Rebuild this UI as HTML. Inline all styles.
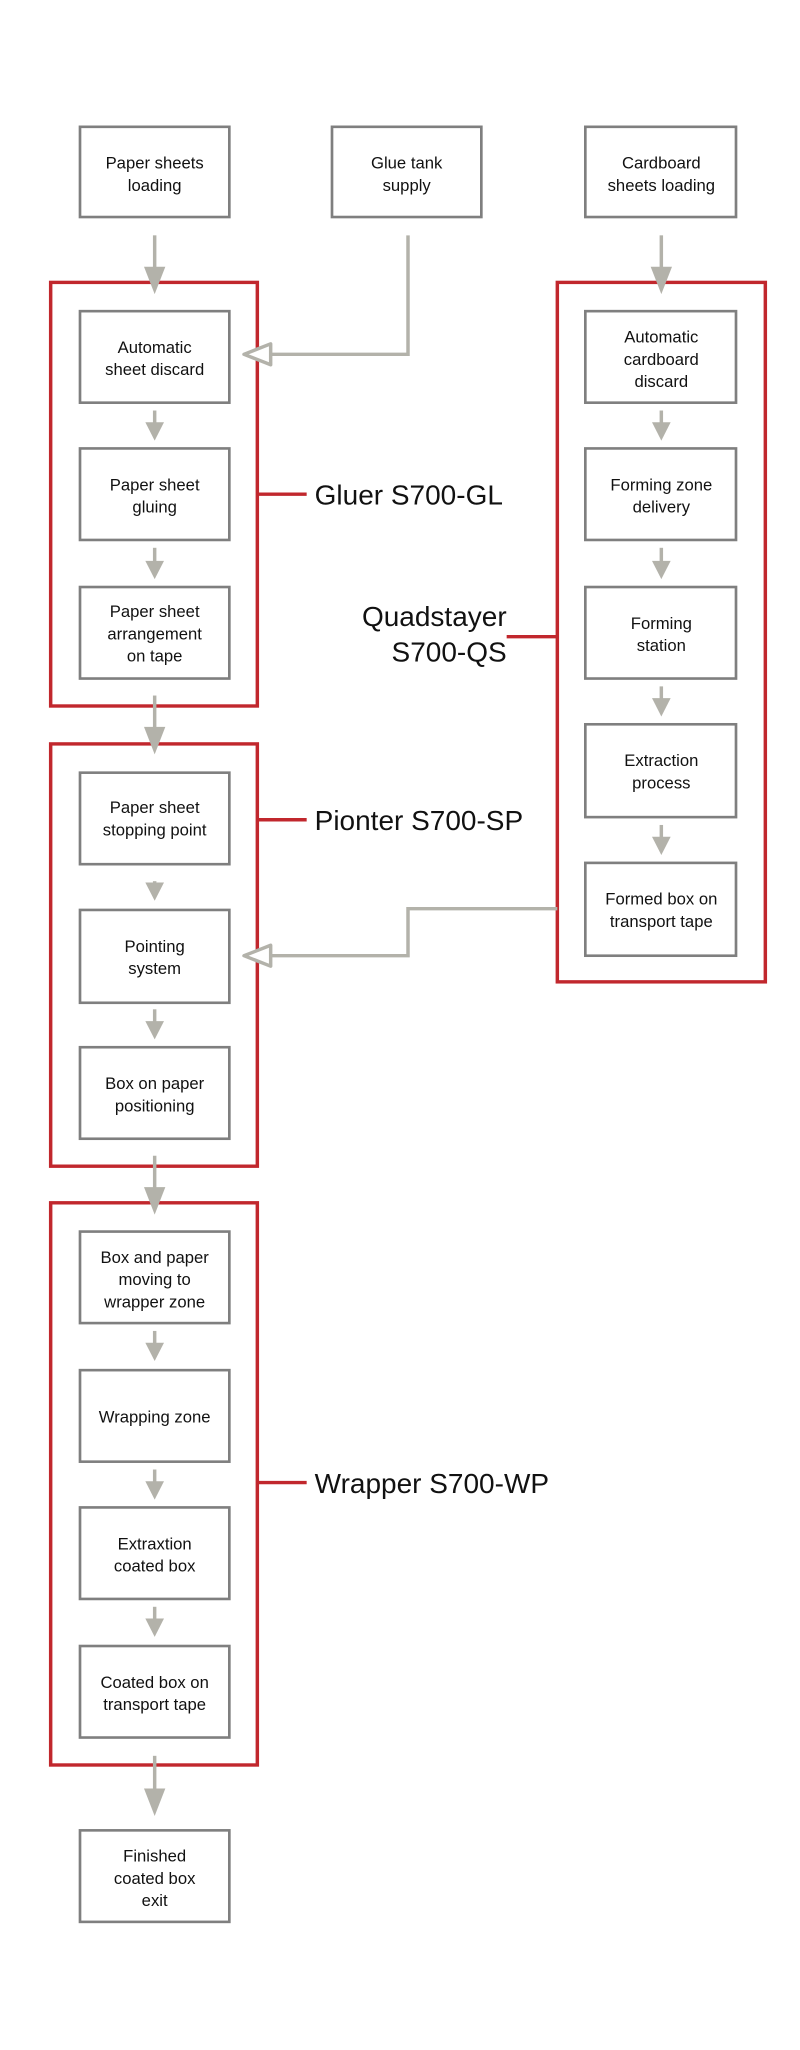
<!DOCTYPE html>
<html><head><meta charset="utf-8"><style>
html,body{margin:0;padding:0;background:#fff;width:800px;height:2050px;overflow:hidden}
svg{display:block}
text{font-family:"Liberation Sans",sans-serif;fill:#111}
.b{fill:#fff;stroke:#7f7f7f;stroke-width:2}
.r{fill:none;stroke:#c1272d;stroke-width:2.6}
.c{fill:none;stroke:#b3b2aa;stroke-width:2.6}
.h{fill:#b3b2aa}
.o{fill:#fff;stroke:#b3b2aa;stroke-width:2.6;stroke-linejoin:round}
.t{font-size:12.5px;text-anchor:middle}
.l{font-size:21px}
</style></head><body>
<svg width="800" height="2050" viewBox="0 0 600 1568" preserveAspectRatio="none">
<!-- red group boxes -->
<rect class="r" x="38" y="216" width="155" height="324"/>
<rect class="r" x="418" y="216" width="156" height="535"/>
<rect class="r" x="38" y="569" width="155" height="323"/>
<rect class="r" x="38" y="920" width="155" height="430"/>
<!-- label lines -->
<line class="r" x1="193" y1="378" x2="230" y2="378"/>
<line class="r" x1="380" y1="487" x2="418" y2="487"/>
<line class="r" x1="193" y1="627" x2="230" y2="627"/>
<line class="r" x1="193" y1="1134" x2="230" y2="1134"/>
<text class="l" x="236" y="386">Gluer S700-GL</text>
<text class="l" x="380" y="479" text-anchor="end">Quadstayer</text>
<text class="l" x="380" y="506" text-anchor="end">S700-QS</text>
<text class="l" x="236" y="635">Pionter S700-SP</text>
<text class="l" x="236" y="1142">Wrapper S700-WP</text>

<!-- connectors -->
<g>
<line class="c" x1="116" y1="180" x2="116" y2="208"/><polygon class="h" points="108,204 124,204 116,225"/>
<line class="c" x1="496" y1="180" x2="496" y2="208"/><polygon class="h" points="488,204 504,204 496,225"/>
<line class="c" x1="116" y1="532" x2="116" y2="560"/><polygon class="h" points="108,556 124,556 116,577"/>
<line class="c" x1="116" y1="884" x2="116" y2="912"/><polygon class="h" points="108,908 124,908 116,929"/>
<line class="c" x1="116" y1="1343" x2="116" y2="1372"/><polygon class="h" points="108,1368 124,1368 116,1389"/>
<polyline class="c" points="306,180 306,271 204,271"/><polygon class="o" points="183,271 203,263 203,279"/>
<polyline class="c" points="418,695 306,695 306,731 204,731"/><polygon class="o" points="183,731 203,723 203,739"/>
</g>
<g id="small">
<line class="c" x1="116" y1="314" x2="116" y2="326"/><polygon class="h" points="109,323 123,323 116,337"/>
<line class="c" x1="116" y1="419" x2="116" y2="432"/><polygon class="h" points="109,429 123,429 116,443"/>
<line class="c" x1="496" y1="314" x2="496" y2="326"/><polygon class="h" points="489,323 503,323 496,337"/>
<line class="c" x1="496" y1="419" x2="496" y2="432"/><polygon class="h" points="489,429 503,429 496,443"/>
<line class="c" x1="496" y1="525" x2="496" y2="537"/><polygon class="h" points="489,534 503,534 496,548"/>
<line class="c" x1="496" y1="631" x2="496" y2="643"/><polygon class="h" points="489,640 503,640 496,654"/>
<line class="c" x1="116" y1="674" x2="116" y2="678"/><polygon class="h" points="109,675 123,675 116,689"/>
<line class="c" x1="116" y1="772" x2="116" y2="784"/><polygon class="h" points="109,781 123,781 116,795"/>
<line class="c" x1="116" y1="1018" x2="116" y2="1030"/><polygon class="h" points="109,1027 123,1027 116,1041"/>
<line class="c" x1="116" y1="1124" x2="116" y2="1136"/><polygon class="h" points="109,1133 123,1133 116,1147"/>
<line class="c" x1="116" y1="1229" x2="116" y2="1241"/><polygon class="h" points="109,1238 123,1238 116,1252"/>
</g>

<!-- boxes -->
<rect class="b" x="60" y="97" width="112" height="69"/>
<text class="t" x="116" y="129">Paper sheets</text><text class="t" x="116" y="146">loading</text>
<rect class="b" x="249" y="97" width="112" height="69"/>
<text class="t" x="305" y="129">Glue tank</text><text class="t" x="305" y="146">supply</text>
<rect class="b" x="439" y="97" width="113" height="69"/>
<text class="t" x="496" y="129">Cardboard</text><text class="t" x="496" y="146">sheets loading</text>

<rect class="b" x="60" y="238" width="112" height="70"/>
<text class="t" x="116" y="270">Automatic</text><text class="t" x="116" y="287">sheet discard</text>
<rect class="b" x="60" y="343" width="112" height="70"/>
<text class="t" x="116" y="375">Paper sheet</text><text class="t" x="116" y="392">gluing</text>
<rect class="b" x="60" y="449" width="112" height="70"/>
<text class="t" x="116" y="472">Paper sheet</text><text class="t" x="116" y="489">arrangement</text><text class="t" x="116" y="506">on tape</text>

<rect class="b" x="439" y="238" width="113" height="70"/>
<text class="t" x="496" y="262">Automatic</text><text class="t" x="496" y="279">cardboard</text><text class="t" x="496" y="296">discard</text>
<rect class="b" x="439" y="343" width="113" height="70"/>
<text class="t" x="496" y="375">Forming zone</text><text class="t" x="496" y="392">delivery</text>
<rect class="b" x="439" y="449" width="113" height="70"/>
<text class="t" x="496" y="481">Forming</text><text class="t" x="496" y="498">station</text>
<rect class="b" x="439" y="554" width="113" height="71"/>
<text class="t" x="496" y="586">Extraction</text><text class="t" x="496" y="603">process</text>
<rect class="b" x="439" y="660" width="113" height="71"/>
<text class="t" x="496" y="692">Formed box on</text><text class="t" x="496" y="709">transport tape</text>

<rect class="b" x="60" y="591" width="112" height="70"/>
<text class="t" x="116" y="622">Paper sheet</text><text class="t" x="116" y="639">stopping point</text>
<rect class="b" x="60" y="696" width="112" height="71"/>
<text class="t" x="116" y="728">Pointing</text><text class="t" x="116" y="745">system</text>
<rect class="b" x="60" y="801" width="112" height="70"/>
<text class="t" x="116" y="833">Box on paper</text><text class="t" x="116" y="850">positioning</text>

<rect class="b" x="60" y="942" width="112" height="70"/>
<text class="t" x="116" y="966">Box and paper</text><text class="t" x="116" y="983">moving to</text><text class="t" x="116" y="1000">wrapper zone</text>
<rect class="b" x="60" y="1048" width="112" height="70"/>
<text class="t" x="116" y="1088">Wrapping zone</text>
<rect class="b" x="60" y="1153" width="112" height="70"/>
<text class="t" x="116" y="1185">Extraxtion</text><text class="t" x="116" y="1202">coated box</text>
<rect class="b" x="60" y="1259" width="112" height="70"/>
<text class="t" x="116" y="1291">Coated box on</text><text class="t" x="116" y="1308">transport tape</text>
<rect class="b" x="60" y="1400" width="112" height="70"/>
<text class="t" x="116" y="1424">Finished</text><text class="t" x="116" y="1441">coated box</text><text class="t" x="116" y="1458">exit</text>
</svg>
</body></html>
